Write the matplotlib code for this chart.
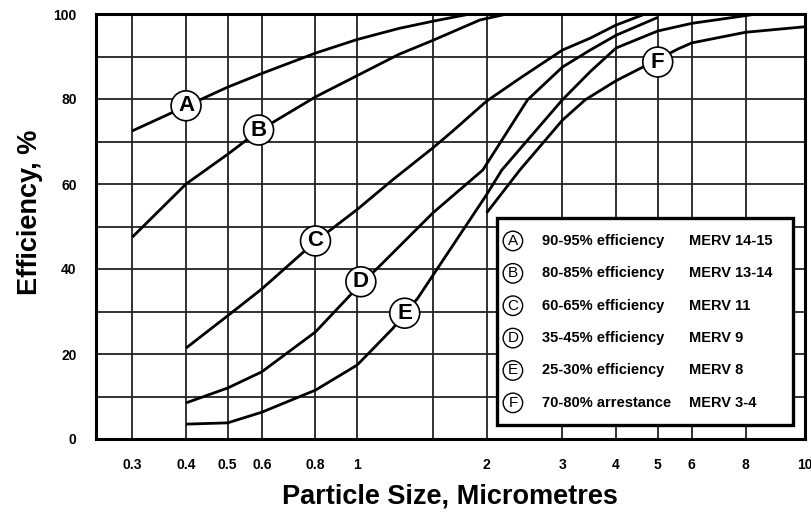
import numpy as np
import matplotlib.pyplot as plt
from matplotlib.patches import Rectangle

plt.rcParams['font.family'] = ['Liberation Sans', 'DejaVu Sans']
plt.rcParams['font.weight'] = 'bold'

# x axis ends a little past 10 in the original drawing, label "10" sits on the frame
XMIN, XMAX = 0.247, 11.0

# curves (particle size in um, efficiency in %)
a_x = [0.3, 0.4, 0.5, 0.6, 0.8, 1.0, 1.25, 1.5, 1.83]
a_y = [72.5, 78.3, 82.8, 86.0, 90.8, 94.0, 96.6, 98.3, 100]

b_x = [0.3, 0.4, 0.5, 0.59, 0.8, 1.0, 1.25, 1.5, 1.93, 2.23]
b_y = [47.5, 60.0, 67.0, 72.5, 80.5, 85.5, 90.5, 93.8, 98.6, 100]

c_x = [0.4, 0.5, 0.6, 0.8, 1.0, 1.21, 1.5, 1.67, 2.0, 2.4, 3.0, 3.48, 4.0, 4.67]
c_y = [21.4, 29.0, 35.3, 46.5, 54.0, 61.0, 68.5, 72.5, 79.5, 85.0, 91.5, 94.3, 97.4, 100]

d_x = [0.4, 0.5, 0.6, 0.8, 1.02, 1.11, 1.5, 1.96, 2.49, 3.0, 3.48, 4.0, 5.0]
d_y = [8.5, 12.0, 15.8, 25.2, 36.5, 40.0, 53.2, 63.3, 79.8, 87.5, 91.5, 95.0, 99.2]

e_x = [0.4, 0.5, 0.6, 0.8, 1.0, 1.21, 1.29, 1.38, 1.5, 2.0, 2.17, 3.0, 3.48, 4.0, 5.0, 6.0, 8.5]
e_y = [3.5, 3.8, 6.3, 11.5, 17.4, 26.0, 29.6, 33.0, 38.5, 57.5, 63.3, 79.8, 86.4, 92.0, 96.0, 97.8, 100]

f_x = [2.0, 2.39, 3.0, 3.39, 4.0, 5.0, 5.58, 6.0, 8.0, XMAX]
f_y = [53.2, 63.3, 75.0, 79.8, 84.3, 89.3, 91.8, 93.2, 95.7, 97.0]

curves = [(a_x, a_y), (b_x, b_y), (c_x, c_y), (d_x, d_y), (e_x, e_y), (f_x, f_y)]

letters = ['A', 'B', 'C', 'D', 'E', 'F']
label_x = [0.4, 0.59, 0.8, 1.02, 1.29, 5.0]
label_y = [78.4, 72.7, 46.6, 37.0, 29.6, 88.7]

descr = ['90-95% efficiency', '80-85% efficiency', '60-65% efficiency',
         '35-45% efficiency', '25-30% efficiency', '70-80% arrestance']
merv = ['MERV 14-15', 'MERV 13-14', 'MERV 11', 'MERV 9', 'MERV 8', 'MERV 3-4']

xgrid = [0.3, 0.4, 0.5, 0.6, 0.8, 1, 1.5, 2, 3, 4, 5, 6, 8, XMAX]
xlabels = ['0.3', '0.4', '0.5', '0.6', '0.8', '1', '', '2', '3', '4', '5', '6', '8', '10']

fig = plt.figure(figsize=(8.12, 5.15), dpi=100)
ax = fig.add_axes([96/812, 1-439/515, 709/812, 425/515])

for xs, ys in curves:
    ax.plot(xs, ys, color='black', lw=2.0, solid_capstyle='butt', zorder=3)

for l, x, y in zip(letters, label_x, label_y):
    ax.text(x, y, l, ha='center', va='center', fontsize=16, fontweight='bold', zorder=5,
            bbox=dict(boxstyle='circle,pad=0.2', fc='white', ec='black', lw=1.2))

ax.set_xscale('log')
ax.set_xlim(XMIN, XMAX)
ax.set_ylim(0, 100)
ax.set_xticks(xgrid)
ax.set_xticklabels(xlabels)
ax.xaxis.set_minor_locator(plt.NullLocator())
ax.set_yticks(np.arange(0, 101, 10))
ax.set_yticklabels([str(v) if v % 20 == 0 else '' for v in range(0, 101, 10)])
ax.tick_params(length=0, labelsize=10, pad=14)
ax.tick_params(axis='x', pad=14)
ax.grid(True, color='#222222', lw=1.3)
ax.set_axisbelow(True)
for s in ax.spines.values():
    s.set_linewidth(2.2)

# legend box
ax.add_patch(Rectangle((0.5656, 0.033), 0.4174, 0.487, transform=ax.transAxes,
                       fc='white', ec='black', lw=2.4, zorder=6))
rows = np.linspace(0.466, 0.085, 6)
for l, d, m, ry in zip(letters, descr, merv, rows):
    ax.text(0.588, ry, l, transform=ax.transAxes, ha='center', va='center', fontsize=11,
            fontweight='normal', zorder=7,
            bbox=dict(boxstyle='circle,pad=0.18', fc='white', ec='black', lw=1.0))
    ax.text(0.629, ry, d, transform=ax.transAxes, ha='left', va='center', fontsize=10.5, zorder=7)
    ax.text(0.836, ry, m, transform=ax.transAxes, ha='left', va='center', fontsize=10.5, zorder=7)

fig.text(450/812, 1-497/515, 'Particle Size, Micrometres', ha='center', va='center',
         fontsize=19.5, fontweight='bold')
fig.text(30/812, 1-212/515, 'Efficiency, %', ha='center', va='center', rotation=90,
         fontsize=19.5, fontweight='bold')

fig.savefig('out.png', dpi=100)
